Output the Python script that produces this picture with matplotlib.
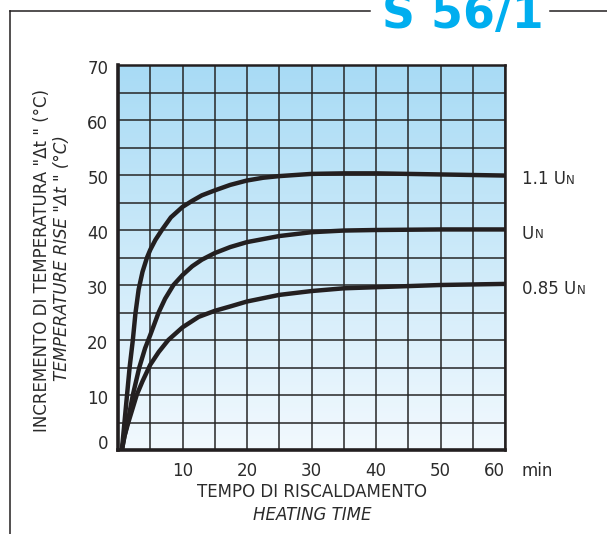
import numpy as np
import matplotlib
matplotlib.use("Agg")
import matplotlib.pyplot as plt
from matplotlib.lines import Line2D

# heating curves (time in min, rise in deg C)
t_110 = [0.6, 0.8, 1.0, 1.4, 1.8, 2.3, 2.7, 3.2, 3.8, 4.5, 5.0, 5.8, 6.8, 8.2, 10, 11.5, 13,
         15, 17.4, 20, 22.5, 25, 30, 35, 40, 50, 60]
v_110 = [0, 2.5, 5, 10, 15, 20, 24.8, 29.2, 32.4, 35, 36.4, 38.2, 40, 42.3, 44.2, 45.3, 46.3,
         47.2, 48.2, 49, 49.5, 49.8, 50.2, 50.3, 50.3, 50.1, 49.9]

t_100 = [0.6, 1.0, 1.5, 2.3, 3.3, 4.2, 5.0, 6.3, 7.3, 8.6, 10, 11.5, 13, 15, 17.4, 20, 25, 30,
         35, 40, 50, 60]
v_100 = [0, 2.5, 5, 10, 15, 18.5, 20.9, 25, 27.5, 30, 31.8, 33.4, 34.6, 35.8, 36.9, 37.8, 38.9,
         39.6, 39.9, 40.0, 40.1, 40.1]

t_085 = [0.6, 1.0, 1.6, 2.9, 3.8, 5.0, 6.3, 7.8, 10, 12.5, 15, 17.4, 20, 25, 30, 35, 40, 50, 60]
v_085 = [0, 2.5, 5, 10, 12.5, 15.5, 17.8, 20, 22.3, 24.2, 25.3, 26.1, 27, 28.2, 28.9, 29.4,
         29.6, 30.0, 30.2]

curve_labels = ["1.1 U", "U", "0.85 U"]
curve_ends = [50, 40, 30]

x_ticks = [10, 20, 30, 40, 50, 60]
y_ticks = [0, 10, 20, 30, 40, 50, 60, 70]

TEXT = "#2b2b2b"
BLUE = "#00aeef"

fig = plt.figure(figsize=(6.07, 5.34), dpi=100)
ax = fig.add_axes([118 / 607, 1 - 450 / 534, 387 / 607, 385 / 534])

# blue gradient background, darker at the top
grad = np.linspace(0, 1, 256).reshape(-1, 1)
cmap = matplotlib.colors.LinearSegmentedColormap.from_list("bg", ["#f2f9fe", "#a8dbf5"])
ax.imshow(grad, extent=[0, 60, 0, 70], origin="lower", aspect="auto", cmap=cmap, zorder=0)

ax.set_xlim(0, 60)
ax.set_ylim(0, 70)
ax.set_xticks(np.arange(0, 61, 5))
ax.set_yticks(np.arange(0, 71, 5))
ax.grid(True, color="#262626", linewidth=1.1, zorder=1)
ax.set_axisbelow(False)
ax.tick_params(length=0, labelbottom=False, labelleft=False)

for x in x_ticks:
    ax.annotate(str(x), (x, 0), xytext=(0, -9), textcoords="offset points",
                ha="right" if x == 60 else "center", va="top", fontsize=12, color=TEXT)
ax.annotate("min", (60, 0), xytext=(12, -9), textcoords="offset points",
            ha="left", va="top", fontsize=12, color=TEXT)
for y in y_ticks:
    ax.annotate(str(y), (0, y), xytext=(-7, -3 if y else 4), textcoords="offset points",
                ha="right", va="center", fontsize=12, color=TEXT)

for tt, vv in [(t_110, v_110), (t_100, v_100), (t_085, v_085)]:
    ax.plot(tt, vv, color="#231f20", linewidth=3.2, solid_capstyle="butt",
            solid_joinstyle="round", zorder=3)

for s in ["left", "bottom"]:
    ax.spines[s].set_linewidth(2.6)
for s in ["top", "right"]:
    ax.spines[s].set_linewidth(1.8)
for s in ax.spines.values():
    s.set_color("#231f20")
    s.set_zorder(4)

# curve labels with small-cap N
for lab, yv in zip(curve_labels, curve_ends):
    t = ax.annotate(lab, (60, yv), xytext=(12, -3), textcoords="offset points",
                    ha="left", va="center", fontsize=12, color=TEXT, annotation_clip=False)
    ax.annotate("N", xy=(1, 0), xycoords=t, xytext=(0.5, 1.2), textcoords="offset points",
                ha="left", va="bottom", fontsize=8.5, color=TEXT)

# axis titles
fig.text(312 / 607, 1 - 492 / 534, "TEMPO DI RISCALDAMENTO", ha="center", va="center",
         fontsize=12, color=TEXT)
fig.text(312 / 607, 1 - 515 / 534, "HEATING TIME", ha="center", va="center",
         fontsize=12, style="italic", color=TEXT)
fig.text(42 / 607, 1 - 260 / 534, "INCREMENTO DI TEMPERATURA \"\u0394t \" (\u00b0C)", rotation=90,
         ha="center", va="center", fontsize=12, color=TEXT)
fig.text(62 / 607, 1 - 258 / 534, "TEMPERATURE RISE \"\u0394t \" (\u00b0C)", rotation=90,
         ha="center", va="center", fontsize=12, style="italic", color=TEXT)

# outer frame with the title cut by the top edge, as in the source
fig.add_artist(Line2D([10 / 607, 10 / 607], [0, 1 - 11 / 534], color="#231f20", linewidth=1.1))
fig.add_artist(Line2D([10 / 607, 370 / 607], [1 - 11 / 534] * 2, color="#231f20", linewidth=1.1))
fig.add_artist(Line2D([550 / 607, 1], [1 - 11 / 534] * 2, color="#231f20", linewidth=1.1))
fig.text(463 / 607, 1 - 28 / 534, "S 56/1", ha="center", va="baseline", fontsize=33,
         fontweight="bold", color=BLUE)

fig.savefig("out.png", dpi=100)
